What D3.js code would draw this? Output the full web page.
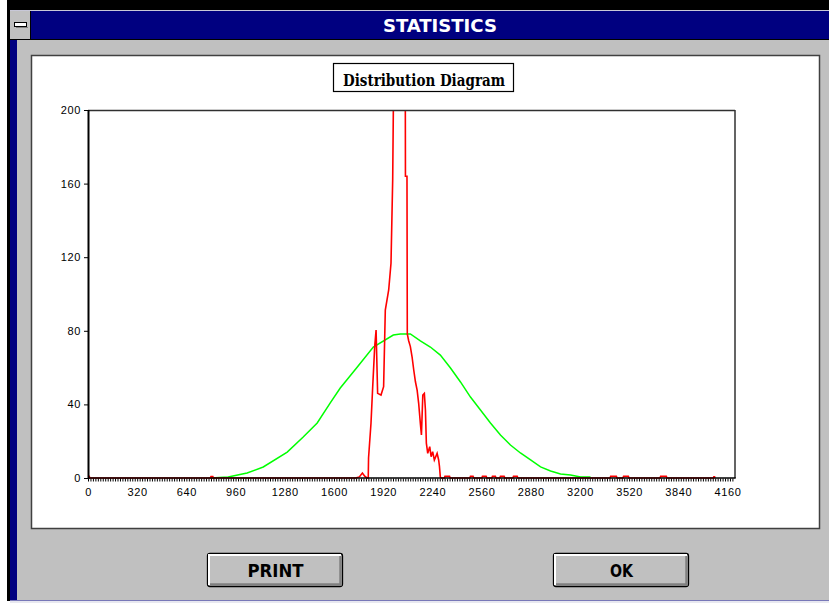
<!DOCTYPE html>
<html>
<head>
<meta charset="utf-8">
<script src="https://cdn.jsdelivr.net/npm/d3@7"></script>
<style>
html,body{margin:0;padding:0;background:#fff;}
svg{display:block;}
</style>
</head>
<body>
<svg id="c" width="829" height="603"></svg>
<script>
// ---- data ----
const windowTitle = "STATISTICS";
const chartTitle = "Distribution Diagram";
const buttonLabels = ["PRINT", "OK"];
const xTickValues = [0,320,640,960,1280,1600,1920,2240,2560,2880,3200,3520,3840,4160];
const yTickValues = [0,40,80,120,160,200];

// measured histogram (red)
const redX = [0,1,8,12,1740,1765,1785,1800,1815,1823,1825,1841,1852,1865,1874,1884,1906,1923,1934,1956,1971,1982,1993,2063,2065,2075,2077,2086,2097,2108,2119,2130,2141,2151,2162,2169,2178,2188,2195,2201,2210,2223,2232,2242,2253,2271,2281,2286,2292,2299,
  2318,2322,2352,2356, 2484,2488,2505,2509, 2562,2566,2590,2594, 2627,2631,2650,2654, 2679,2683,2707,2711, 2764,2768,2792,2796,
  3396,3400,3437,3441, 3480,3484,3515,3519, 3721,3725,3762,3766, 4068,4071,4076,4079];
const redY = [0,0.9,0.9,0,0,0.6,2.7,1,0,0,10.9,29.9,49.6,71.4,80.4,46,45.1,49.6,91.3,102.2,116.7,162,260,260,164,164,78.3,74.6,71.4,65.9,58.7,52.3,47.8,40.6,29.7,23.4,45.1,46,37,18.9,13.4,17,11.6,14.3,9.8,13.4,9.8,6.5,0.5,0,
  0,0.9,0.9,0, 0,0.9,0.9,0, 0,0.9,0.9,0, 0,0.9,0.9,0, 0,0.9,0.9,0, 0,0.9,0.9,0,
  0,0.9,0.9,0, 0,0.9,0.9,0, 0,0.9,0.9,0, 0,0.6,0.6,0];
const redExtraX = [796,800,812,816];
const redExtraY = [0,0.8,0.8,0];

// fitted normal curve (green)
const greenX = [800,912,1035,1140,1296,1400,1491,1576,1641,1752,1856,1986,2032,2097,2162,2227,2292,2358,2423,2488,2553,2618,2683,2748,2813,2879,2944,3009,3074,3139,3204,3269];
const greenY = [0,0.5,2.7,6.0,14.1,22.3,29.9,40.8,48.9,60.3,71.2,77.7,78.3,78.3,74.5,71.2,66.8,59.8,52.2,44.0,37.0,29.9,23.4,17.9,13.6,9.8,6.0,3.8,2.2,1.6,0.5,0.5];

// ---- drawing ----
const svg = d3.select("#c");
const W = 829, H = 603;

// window frame
svg.append("rect").attr("x",0).attr("y",0).attr("width",W).attr("height",H).attr("fill","#ffffff");
svg.append("rect").attr("x",7).attr("y",0).attr("width",W-7).attr("height",10).attr("fill","#000000");
svg.append("rect").attr("x",7).attr("y",0).attr("width",3).attr("height",601).attr("fill","#000000");
svg.append("rect").attr("x",10).attr("y",10).attr("width",W-10).attr("height",1).attr("fill","#c8c8d8");
svg.append("rect").attr("x",10).attr("y",11).attr("width",W-10).attr("height",28).attr("fill","#000080");
svg.append("rect").attr("x",10).attr("y",39).attr("width",W-10).attr("height",1).attr("fill","#000000");
svg.append("rect").attr("x",10).attr("y",40).attr("width",W-10).attr("height",560).attr("fill","#c0c0c0");
svg.append("rect").attr("x",10).attr("y",40).attr("width",7).attr("height",560).attr("fill","#000080");
svg.append("rect").attr("x",10).attr("y",600).attr("width",W-10).attr("height",1).attr("fill","#7878b8");
svg.append("rect").attr("x",10).attr("y",601).attr("width",W-10).attr("height",2).attr("fill","#e8e8f0");

// system menu box
svg.append("rect").attr("x",10).attr("y",11).attr("width",20).attr("height",28).attr("fill","#c0c0c0");
svg.append("rect").attr("x",30).attr("y",11).attr("width",1).attr("height",28).attr("fill","#000000");
svg.append("rect").attr("x",14.5).attr("y",22.5).attr("width",12).attr("height",4).attr("fill","#ffffff").attr("stroke","#000").attr("stroke-width",1);
svg.append("rect").attr("x",16).attr("y",27).attr("width",12).attr("height",1).attr("fill","#808080");

// window title
svg.append("text").attr("x",440).attr("y",32).attr("text-anchor","middle")
  .attr("font-family","'DejaVu Sans Condensed','DejaVu Sans',sans-serif").attr("font-weight","bold")
  .attr("font-size",18).attr("fill","#ffffff")
  .attr("textLength",114).attr("lengthAdjust","spacingAndGlyphs").text(windowTitle);

// white panel
svg.append("rect").attr("x",31.5).attr("y",55.5).attr("width",788).attr("height",473)
  .attr("fill","#ffffff").attr("stroke","#404040").attr("stroke-width",1.5);

// chart title box
svg.append("rect").attr("x",333.5).attr("y",63.5).attr("width",180).attr("height",28)
  .attr("fill","#ffffff").attr("stroke","#000").attr("stroke-width",1.2);
svg.append("text").attr("x",424).attr("y",85.5).attr("text-anchor","middle")
  .attr("font-family","'DejaVu Serif Condensed','DejaVu Serif',serif").attr("font-weight","bold")
  .attr("font-size",16).attr("fill","#000")
  .attr("textLength",162).attr("lengthAdjust","spacingAndGlyphs").text(chartTitle);

// scales
const x = d3.scaleLinear().domain([0,4160]).range([88,727.5]);
const y = d3.scaleLinear().domain([0,200]).range([478,110]);
const plotRight = 735;

// clip
svg.append("defs").append("clipPath").attr("id","plotclip")
  .append("rect").attr("x",88).attr("y",110).attr("width",plotRight-88).attr("height",372);

const line = d3.line().x(d=>x(d[0])).y(d=>y(d[1]));
const greenPts = greenX.map((v,i)=>[v,greenY[i]]);
const redPts = redX.map((v,i)=>[v,redY[i]]);
const redExtraPts = redExtraX.map((v,i)=>[v,redExtraY[i]]);

const g = svg.append("g").attr("clip-path","url(#plotclip)");
g.append("path").datum(greenPts).attr("d",line).attr("fill","none")
  .attr("stroke","#00ff00").attr("stroke-width",1.5).attr("stroke-linejoin","miter");
g.append("path").datum(redPts).attr("d",line).attr("fill","none")
  .attr("stroke","#ff0000").attr("stroke-width",1.6).attr("stroke-linejoin","miter");
g.append("path").datum(redExtraPts).attr("d",line).attr("fill","none")
  .attr("stroke","#ff0000").attr("stroke-width",1.6);

// plot frame: top and right border
svg.append("line").attr("x1",88).attr("x2",plotRight).attr("y1",110.5).attr("y2",110.5)
  .attr("stroke","#303030").attr("stroke-width",1.3);
svg.append("line").attr("x1",plotRight).attr("x2",plotRight).attr("y1",110).attr("y2",478)
  .attr("stroke","#303030").attr("stroke-width",1.5);

// y axis
const yAxis = d3.axisLeft(y).tickValues(yTickValues).tickSize(4).tickPadding(3).tickFormat(d3.format("d"));
const gy = svg.append("g").attr("transform","translate(88,0)").call(yAxis);
gy.select(".domain").remove();
gy.selectAll(".tick line").attr("stroke","#000").attr("stroke-width",1);
gy.selectAll(".tick text").attr("font-family","'Liberation Sans',Arial,sans-serif")
  .attr("font-size",11).attr("fill","#000").attr("letter-spacing",0.6);
svg.append("line").attr("x1",88.5).attr("x2",88.5).attr("y1",110).attr("y2",479)
  .attr("stroke","#000").attr("stroke-width",2);

// x axis minor ticks
const xMinor = d3.axisBottom(x).tickValues(d3.range(0,4208,16)).tickSize(3).tickFormat("");
const gxm = svg.append("g").attr("transform","translate(0,478.5)").call(xMinor);
gxm.select(".domain").remove();
gxm.selectAll(".tick line").attr("stroke","#000").attr("stroke-width",1);

// x axis labels
const xAxis = d3.axisBottom(x).tickValues(xTickValues).tickSize(0).tickPadding(10).tickFormat(d3.format("d"));
const gx = svg.append("g").attr("transform","translate(0,478)").call(xAxis);
gx.select(".domain").remove();
gx.selectAll(".tick text").attr("font-family","'Liberation Sans',Arial,sans-serif")
  .attr("font-size",11).attr("fill","#000").attr("letter-spacing",0.6);
svg.append("line").attr("x1",88).attr("x2",plotRight+0.7).attr("y1",478).attr("y2",478)
  .attr("stroke","#000").attr("stroke-width",1.6);

// buttons
const buttons = [{label:buttonLabels[0], x:207, w:135},{label:buttonLabels[1], x:553, w:135}];
buttons.forEach(b=>{
  const bg = svg.append("g");
  bg.append("rect").attr("x",b.x+0.5).attr("y",553.5).attr("width",b.w).attr("height",33).attr("rx",2.5)
    .attr("fill","#c0c0c0").attr("stroke","#000").attr("stroke-width",1.3);
  bg.append("path").attr("d",`M${b.x+2},${585} L${b.x+2},${555} L${b.x+b.w-1},${555}`)
    .attr("fill","none").attr("stroke","#ffffff").attr("stroke-width",2);
  bg.append("path").attr("d",`M${b.x+3},${584.5} L${b.x+b.w-1.5},${584.5} L${b.x+b.w-1.5},${556}`)
    .attr("fill","none").attr("stroke","#808080").attr("stroke-width",2.5);
  bg.append("text").attr("x",b.x+b.w/2+1).attr("y",577).attr("text-anchor","middle")
    .attr("font-family","'DejaVu Sans Condensed','DejaVu Sans',sans-serif").attr("font-weight","bold")
    .attr("font-size",17).attr("fill","#000")
    .attr("textLength", b.label.length>2 ? 56 : 23).attr("lengthAdjust","spacingAndGlyphs")
    .text(b.label);
});
</script>
</body>
</html>
